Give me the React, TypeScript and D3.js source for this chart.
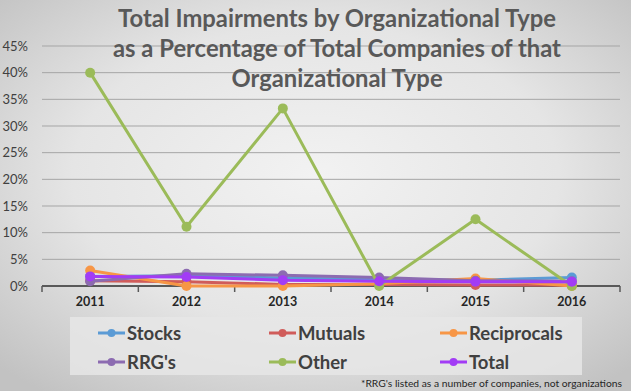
import * as d3 from "d3";
import { useRef, useEffect } from "react";

const years = ["2011", "2012", "2013", "2014", "2015", "2016"];
const seriesNames = ["Stocks", "Mutuals", "Reciprocals", "RRG's", "Other", "Total"];
const stocks = [1.8, 1.9, 1.5, 1.2, 1.1, 1.6];
const mutuals = [1.0, 0.8, 0.3, 0.3, 0.2, 0.2];
const reciprocals = [2.9, 0, 0, 0.4, 1.4, 0];
const rrgs = [0.9, 2.3, 2.0, 1.6, 1.0, 0.9];
const other = [40, 11.1, 33.3, 0, 12.5, 0];
const total = [1.8, 1.7, 1.1, 0.9, 0.8, 0.8];
const yTicks = [0, 5, 10, 15, 20, 25, 30, 35, 40, 45];
const colors = ["#5b9bd5", "#d05c5a", "#f79646", "#8c6bb1", "#9bbb59", "#a23cf5"];
const titleLines = [
  "Total Impairments by Organizational Type",
  "as a Percentage of Total Companies of that",
  "Organizational Type",
];
const footnote = "*RRG's listed as a number of companies, not organizations";

export default function App() {
  const svgRef = useRef<SVGSVGElement>(null);

  useEffect(() => {
    document.body.style.margin = "0";
    const W = 631, H = 391;
    const svg = d3.select(svgRef.current);
    svg.selectAll("*").remove();
    svg.attr("width", W).attr("height", H);

    const defs = svg.append("defs");
    const grad = defs.append("radialGradient").attr("id", "bg")
      .attr("cx", "50%").attr("cy", "45%").attr("r", "70%");
    grad.append("stop").attr("offset", "0%").attr("stop-color", "#f2f2f2");
    grad.append("stop").attr("offset", "55%").attr("stop-color", "#e5e5e5");
    grad.append("stop").attr("offset", "100%").attr("stop-color", "#c2c2c2");
    svg.append("rect").attr("width", W).attr("height", H).attr("fill", "url(#bg)");

    const font = "Lato, 'Open Sans', sans-serif";
    const x = d3.scaleBand().domain(years).range([42, 620]);
    const y = d3.scaleLinear().domain([0, 45]).range([286, 46]);
    const cx = (d: string) => (x(d) as number) + x.bandwidth() / 2;

    // gridlines
    svg.append("g").selectAll("line").data(yTicks.filter(t => t > 0)).enter().append("line")
      .attr("x1", 42).attr("x2", 620)
      .attr("y1", d => y(d)).attr("y2", d => y(d))
      .attr("stroke", "#a5a5a5").attr("stroke-width", 1);

    // y labels
    svg.append("g").selectAll("text").data(yTicks).enter().append("text")
      .attr("x", 28).attr("y", d => y(d) + 4.5)
      .attr("text-anchor", "end")
      .attr("font-family", font).attr("font-size", 13).attr("fill", "#404040")
      .text(d => d + "%");

    // x axis
    svg.append("line").attr("x1", 42).attr("x2", 620).attr("y1", y(0)).attr("y2", y(0))
      .attr("stroke", "#595959").attr("stroke-width", 2);
    const edges = years.map(d => x(d) as number).concat([620]);
    svg.append("g").selectAll("line").data(edges).enter().append("line")
      .attr("x1", d => d).attr("x2", d => d).attr("y1", y(0)).attr("y2", y(0) + 6)
      .attr("stroke", "#595959").attr("stroke-width", 1.5);
    svg.append("g").selectAll("text").data(years).enter().append("text")
      .attr("x", d => cx(d)).attr("y", 306)
      .attr("text-anchor", "middle")
      .attr("font-family", font).attr("font-weight", "bold").attr("font-size", 12.5).attr("fill", "#262626")
      .text(d => d);

    // title
    svg.append("g").selectAll("text").data(titleLines).enter().append("text")
      .attr("x", 337).attr("y", (d, i) => 27 + i * 30)
      .attr("text-anchor", "middle")
      .attr("font-family", font).attr("font-weight", "bold").attr("font-size", 23.8).attr("fill", "#595959")
      .text(d => d);

    // series
    const allSeries = [stocks, mutuals, reciprocals, rrgs, other, total];
    const line = d3.line<number>().x((d, i) => cx(years[i])).y(d => y(d));
    allSeries.forEach((vals, si) => {
      const g = svg.append("g");
      g.append("path").datum(vals).attr("d", line)
        .attr("fill", "none").attr("stroke", colors[si]).attr("stroke-width", 3)
        .attr("stroke-linejoin", "round");
      g.selectAll("circle").data(vals).enter().append("circle")
        .attr("cx", (d, i) => cx(years[i])).attr("cy", d => y(d)).attr("r", 5)
        .attr("fill", colors[si]);
    });

    // legend
    svg.append("rect").attr("x", 70).attr("y", 317).attr("width", 512).attr("height", 58)
      .attr("fill", "#e6e6e6").attr("fill-opacity", 0.85);
    const colX = [98, 269, 440];
    const rowY = [333, 362];
    seriesNames.forEach((name, i) => {
      const lx = colX[i % 3], ly = rowY[Math.floor(i / 3)];
      svg.append("line").attr("x1", lx).attr("x2", lx + 27).attr("y1", ly).attr("y2", ly)
        .attr("stroke", colors[i]).attr("stroke-width", 3);
      svg.append("circle").attr("cx", lx + 13.5).attr("cy", ly).attr("r", 4).attr("fill", colors[i]);
      svg.append("text").attr("x", lx + 29).attr("y", ly + 6.5)
        .attr("font-family", font).attr("font-weight", "bold").attr("font-size", 18.5).attr("fill", "#404040")
        .text(name);
    });

    svg.append("text").attr("x", 622).attr("y", 387).attr("text-anchor", "end")
      .attr("font-family", font).attr("font-size", 10.3).attr("fill", "#262626")
      .text(footnote);
  }, []);

  return <svg ref={svgRef} style={{ display: "block" }}></svg>;
}
